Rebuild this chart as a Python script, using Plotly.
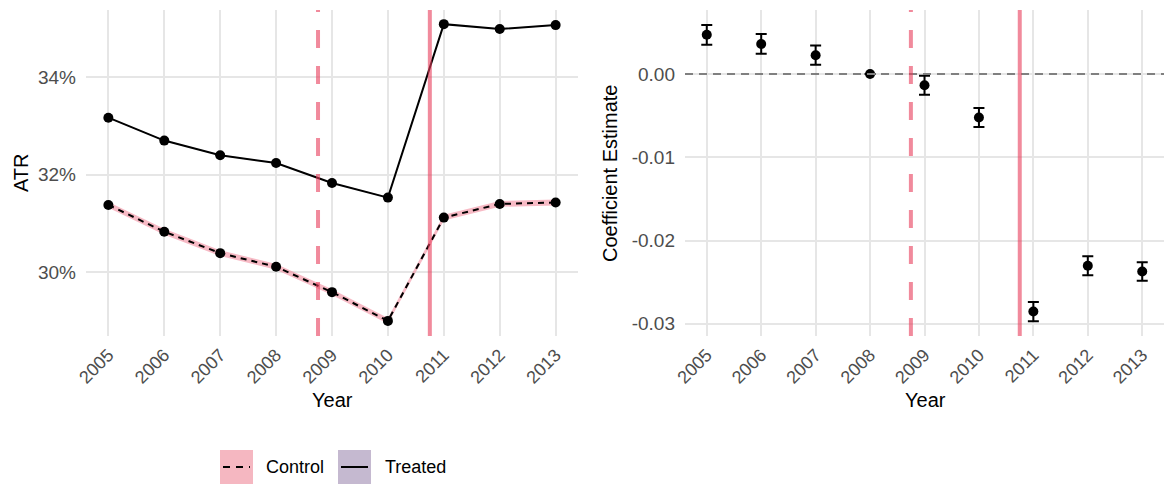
import plotly.graph_objects as go

# Event-study data
years = [2005, 2006, 2007, 2008, 2009, 2010, 2011, 2012, 2013]
year_labels = [str(y) for y in years]

atr_treated = [0.3317, 0.3270, 0.3240, 0.3224, 0.3183, 0.3153, 0.3509, 0.3499, 0.3507]
atr_control = [0.3138, 0.3083, 0.3039, 0.3011, 0.2959, 0.2900, 0.3112, 0.3140, 0.3143]
band_treated = [0.0001, 0.0001, 0.0001, 0.0001, 0.0001, 0.0001, 0.0001, 0.0001, 0.0001]
band_control = [0.0006, 0.0006, 0.0006, 0.0006, 0.0006, 0.0006, 0.0006, 0.0006, 0.0006]

coef = [0.00472, 0.00362, 0.00227, 0.0, -0.00135, -0.00521, -0.02853, -0.02303, -0.02371]
coef_err = [0.00119, 0.00119, 0.00116, None, 0.00114, 0.00114, 0.00116, 0.00114, 0.00111]

announce_year = 2008.75
reform_year = 2010.75

W, H = 1167, 486
FONT = "Liberation Sans, Arial, sans-serif"
GRID = "#E6E6E6"
TICK = "#4D4D4D"
VLINE = "rgba(232,60,90,0.6)"
PINK = "rgba(240,130,150,0.55)"
PURPLE = "rgba(150,125,170,0.55)"


def px(x):
    return x / W


def py(y):
    return 1 - y / H


fig = go.Figure()

# Left panel: ribbons
for vals, band, color in [(atr_control, band_control, PINK), (atr_treated, band_treated, PURPLE)]:
    fig.add_trace(go.Scatter(x=years, y=[v - b for v, b in zip(vals, band)], mode="lines",
                             line=dict(width=0), showlegend=False, hoverinfo="skip",
                             xaxis="x", yaxis="y"))
    fig.add_trace(go.Scatter(x=years, y=[v + b for v, b in zip(vals, band)], mode="lines",
                             line=dict(width=0), fill="tonexty", fillcolor=color,
                             showlegend=False, hoverinfo="skip", xaxis="x", yaxis="y"))

# Left panel: lines with points
fig.add_trace(go.Scatter(x=years, y=atr_control, mode="lines+markers", name="Control",
                         line=dict(color="black", width=2, dash="6px,5px"),
                         marker=dict(color="black", size=10), showlegend=False,
                         xaxis="x", yaxis="y"))
fig.add_trace(go.Scatter(x=years, y=atr_treated, mode="lines+markers", name="Treated",
                         line=dict(color="black", width=2),
                         marker=dict(color="black", size=10), showlegend=False,
                         xaxis="x", yaxis="y"))

# Right panel: coefficient estimates
fig.add_trace(go.Scatter(x=years, y=coef, mode="markers",
                         marker=dict(color="black", size=10),
                         error_y=dict(type="data", array=coef_err, color="black",
                                      thickness=2, width=5.5),
                         showlegend=False, xaxis="x2", yaxis="y2"))

x_range = [2004.6, 2013.4]
common_x = dict(range=x_range, tickvals=years, ticktext=year_labels, tickangle=-45,
                showgrid=True, gridcolor=GRID, gridwidth=1.6, zeroline=False, automargin=False,
                showline=False, ticks="", ticklabelstandoff=4,
                tickfont=dict(family=FONT, size=18, color=TICK))
common_y = dict(showgrid=True, gridcolor=GRID, gridwidth=1.6, zeroline=False, automargin=False,
                showline=False, ticks="", ticklabelstandoff=9,
                tickfont=dict(family=FONT, size=19, color=TICK))

top, bottom = py(10), py(336)

fig.update_layout(
    width=W, height=H,
    margin=dict(l=0, r=0, t=0, b=0, autoexpand=False),
    paper_bgcolor="white", plot_bgcolor="white",
    showlegend=False,
    font=dict(family=FONT),
    xaxis=dict(domain=[px(86), px(578)], anchor="y", **common_x),
    yaxis=dict(domain=[bottom, top], anchor="x", range=[0.2869, 0.3538],
               tickvals=[0.30, 0.32, 0.34], tickformat=".0%", **common_y),
    xaxis2=dict(domain=[px(685), px(1164)], anchor="y2", **common_x),
    yaxis2=dict(domain=[bottom, top], anchor="x2", range=[-0.03147, 0.0077],
                tickvals=[-0.03, -0.02, -0.01, 0.0], ticktext=["-0.03", "-0.02", "-0.01", "0.00"],
                **common_y),
)

# Zero reference line in the coefficient panel
fig.add_shape(type="line", xref="x2 domain", yref="y2", x0=0, x1=1, y0=0, y1=0,
              line=dict(color="#808080", width=2, dash="8px,6px"))

# Announcement (dashed) and reform (solid) markers in both panels
for xr, yr in [("x", "y domain"), ("x2", "y2 domain")]:
    fig.add_shape(type="line", xref=xr, yref=yr, x0=announce_year, x1=announce_year, y0=0, y1=1,
                  line=dict(color=VLINE, width=4, dash="18px,18px"))
    fig.add_shape(type="line", xref=xr, yref=yr, x0=reform_year, x1=reform_year, y0=0, y1=1,
                  line=dict(color=VLINE, width=4))

# Axis titles
title_font = dict(family=FONT, size=20, color="black")
fig.add_annotation(x=px(332), y=py(400), xref="paper", yref="paper", text="Year",
                   showarrow=False, xanchor="center", yanchor="middle", font=title_font)
fig.add_annotation(x=px(925), y=py(400), xref="paper", yref="paper", text="Year",
                   showarrow=False, xanchor="center", yanchor="middle", font=title_font)
fig.add_annotation(x=px(21), y=py(173), xref="paper", yref="paper", text="ATR",
                   showarrow=False, textangle=-90, xanchor="center", yanchor="middle",
                   font=title_font)
fig.add_annotation(x=px(610), y=py(173), xref="paper", yref="paper", text="Coefficient Estimate",
                   showarrow=False, textangle=-90, xanchor="center", yanchor="middle",
                   font=title_font)

# Legend keys
fig.add_shape(type="rect", xref="paper", yref="paper", x0=px(220), x1=px(253), y0=py(484), y1=py(450),
              fillcolor="#F5B7C1", line=dict(width=0))
fig.add_shape(type="line", xref="paper", yref="paper", x0=px(223), x1=px(250), y0=py(467), y1=py(467),
              line=dict(color="black", width=2, dash="7px,6px"))
fig.add_shape(type="rect", xref="paper", yref="paper", x0=px(338), x1=px(371), y0=py(484), y1=py(450),
              fillcolor="#C5B9D0", line=dict(width=0))
fig.add_shape(type="line", xref="paper", yref="paper", x0=px(341), x1=px(368), y0=py(467), y1=py(467),
              line=dict(color="black", width=2))
legend_font = dict(family=FONT, size=18, color="black")
fig.add_annotation(x=px(264), y=py(467), xref="paper", yref="paper", text="Control",
                   showarrow=False, xanchor="left", yanchor="middle", font=legend_font)
fig.add_annotation(x=px(383), y=py(467), xref="paper", yref="paper", text="Treated",
                   showarrow=False, xanchor="left", yanchor="middle", font=legend_font)

fig.write_html("out.html")
